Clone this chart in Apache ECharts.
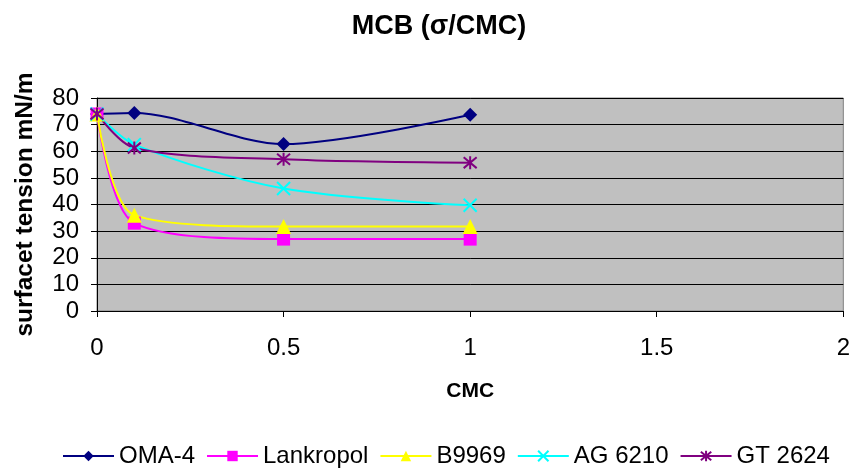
<!DOCTYPE html>
<html>
<head>
<meta charset="utf-8">
<script src="https://cdn.jsdelivr.net/npm/echarts@6/dist/echarts.min.js"></script>
<style>
  html, body { margin: 0; padding: 0; background: #fff; }
  #chart { width: 853px; height: 470px; }
</style>
</head>
<body>
<div id="chart"></div>
<script>
// Concentration as a multiple of CMC
const cmc = [0, 0.1, 0.5, 1];

// Surface tension (mN/m) for each surfactant
const oma4 = [74, 74.4, 62.7, 73.7];
const lankropol = [74, 33, 27, 27];
const b9969 = [74, 36, 31.7, 31.7];
const ag6210 = [74, 62.5, 46, 39.7];
const gt2624 = [74, 61.2, 57, 55.7];

const seriesNames = ['OMA-4', 'Lankropol', 'B9969', 'AG 6210', 'GT 2624'];
const xTicks = [0, 0.5, 1, 1.5, 2];
const yTicks = [0, 10, 20, 30, 40, 50, 60, 70, 80];

const FONT = '"Liberation Sans", Arial, sans-serif';

function pairs(ys) { return cmc.map((x, i) => [x, ys[i]]); }

function makeSeries(name, ys, color, symbol, size, hollow) {
  return {
    name: name,
    type: 'line',
    smooth: 0.3,
    data: pairs(ys),
    symbol: symbol,
    symbolSize: size,
    showAllSymbol: true,
    lineStyle: { color: color, width: 2 },
    itemStyle: hollow
      ? { color: 'rgba(0,0,0,0)', borderColor: color, borderWidth: 2 }
      : { color: color, borderWidth: 0 },
    emphasis: { disabled: true },
    z: 3
  };
}

const chart = echarts.init(document.getElementById('chart'), null, { renderer: 'canvas' });
chart.setOption({
  animation: false,
  backgroundColor: '#ffffff',
  title: {
    text: 'MCB (\u03c3/CMC)',
    left: 434,
    top: 8,
    textAlign: 'center',
    textStyle: { fontFamily: FONT, fontSize: 27, fontWeight: 'bold', color: '#000' }
  },
  legend: {
    top: 439,
    left: 57,
    itemWidth: 51,
    itemHeight: 13,
    itemGap: 11,
    textStyle: { fontFamily: FONT, fontSize: 24, color: '#000' },
    data: seriesNames
  },
  grid: {
    left: 97, right: 6, top: 98, bottom: 159,
    show: true,
    backgroundColor: '#c0c0c0',
    borderColor: '#808080',
    borderWidth: 1
  },
  xAxis: {
    type: 'value',
    min: 0, max: 2, interval: 0.5,
    name: 'CMC',
    nameLocation: 'middle',
    nameGap: 70,
    nameTextStyle: { fontFamily: FONT, fontSize: 21, fontWeight: 'bold', color: '#000' },
    axisLine: { show: true, onZero: false, lineStyle: { color: '#000', width: 1 } },
    axisTick: { show: true, length: 6, lineStyle: { color: '#000' } },
    axisLabel: {
      fontFamily: FONT, fontSize: 24, color: '#000', margin: 25,
      formatter: v => xTicks.includes(v) ? String(v) : ''
    },
    splitLine: { show: false }
  },
  yAxis: {
    type: 'value',
    min: 0, max: 80, interval: 10,
    name: 'surfacet tension mN/m',
    nameLocation: 'middle',
    nameGap: 59,
    nameTextStyle: { fontFamily: FONT, fontSize: 24.5, fontWeight: 'bold', color: '#000' },
    axisLine: { show: true, lineStyle: { color: '#000', width: 1 } },
    axisTick: { show: true, length: 6, lineStyle: { color: '#000' } },
    axisLabel: {
      fontFamily: FONT, fontSize: 24, color: '#000', margin: 18,
      formatter: v => yTicks.includes(v) ? String(v) : ''
    },
    splitLine: { show: true, lineStyle: { color: '#000', width: 1 } }
  },
  series: [
    makeSeries('OMA-4', oma4, '#000080', 'diamond', 14, false),
    makeSeries('Lankropol', lankropol, '#ff00ff', 'rect', 13, false),
    makeSeries('B9969', b9969, '#ffff00', 'triangle', 15, false),
    makeSeries('AG 6210', ag6210, '#00ffff', 'path://M0,0L10,10M10,0L0,10', 13, true),
    makeSeries('GT 2624', gt2624, '#800080', 'path://M0,0L10,10M10,0L0,10M5,-1L5,11', 13, true)
  ]
});
</script>
</body>
</html>
